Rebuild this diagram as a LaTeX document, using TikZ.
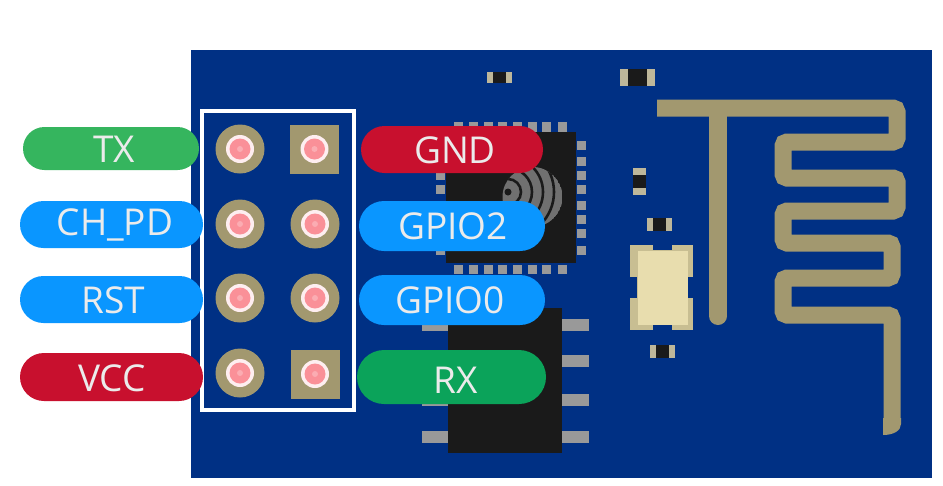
\documentclass[tikz,border=0pt]{standalone}
\usepackage{fontspec}
\usetikzlibrary{shapes.misc}
\setmainfont{Open Sans}
\definecolor{board}{HTML}{003084}
\definecolor{gold}{HTML}{A2986F}
\definecolor{chipk}{HTML}{1A1A1A}
\definecolor{pinGray}{HTML}{999999}
\definecolor{cream}{HTML}{E8DDAE}
\definecolor{pillblue}{HTML}{0A96FF}
\definecolor{pillred}{HTML}{C8102E}
\definecolor{pillgreen}{HTML}{35B55E}
\definecolor{pillgreenb}{HTML}{0BA35A}
\definecolor{pinkc}{HTML}{FA9098}
\definecolor{logoGray}{HTML}{707070}
\tikzset{
  pill/.style={draw=none,rounded rectangle,rounded rectangle arc length=180,inner sep=0pt},
  pilltext/.style={text=white!92!black,inner sep=0pt,font=\fontsize{37}{37}\selectfont},
  antenna/.style={draw=gold,line width=17pt,rounded corners=4pt},
  hole/.style={circle,fill=white!85!pinkc,draw=none,minimum size=28pt,inner sep=0pt},
  holein/.style={circle,fill=pinkc,draw=none,minimum size=21pt,inner sep=0pt},
  padround/.style={circle,fill=gold,draw=none,minimum size=49pt,inner sep=0pt},
  padsquare/.style={rectangle,fill=gold,draw=none,minimum size=49pt,inner sep=0pt},
}
\newcommand{\smdh}[5]{%
  \fill[gold!70!white] (#1,#3) rectangle (#2,#4);
  \fill[chipk] ({#1+#5},#3) rectangle ({#2-#5},#4);}
\newcommand{\smdv}[5]{%
  \fill[gold!70!white] (#1,#3) rectangle (#2,#4);
  \fill[chipk] (#1,{#3+#5}) rectangle (#2,{#4-#5});}
% name, cx, cy, w, h, colour, text x, text y, text
\newcommand{\pinlabel}[9]{%
  \node[pill,fill=#6,minimum width=#4pt,minimum height=#5pt] (#1) at (#2,#3) {};
  \node[pilltext] (#1t) at (#7,#8) {#9};}
\begin{document}
\begin{tikzpicture}[x=1pt,y=-1pt]
\useasboundingbox (0,0) rectangle (943,485);
\fill[white] (0,0) rectangle (943,485);
\fill[board] (191,50) rectangle (932,478);
% antenna
\draw[antenna] (657,108) -- (897,108) -- (897,142) -- (783,142) -- (783,178) -- (897,178) -- (897,211) -- (783,211) -- (783,243) -- (892,243) -- (892,278) -- (783,278) -- (783,315) -- (892,315) -- (892,420);
\fill[gold] (883,418) -- (901,418) -- (901,424) .. controls (901,431) and (893,435) .. (883,435) -- cycle;
\fill[gold] (709,108) rectangle (727,316);
\fill[gold] (718,316) circle (9);
% ESP chip
\fill[chipk] (446,132) rectangle (576,263);
\foreach \x in {458,473,488,502,517,532,546,562}{
  \fill[pinGray] (\x-4.5,122) rectangle (\x+4.5,132);
  \fill[pinGray] (\x-4.5,265) rectangle (\x+4.5,274);}
\foreach \y in {145,161,175,189,205,219,233,250}{
  \fill[pinGray] (577,\y-4.5) rectangle (586,\y+4.5);
  \fill[pinGray] (436,\y-4.5) rectangle (445,\y+4.5);}
% logo
\begin{scope}
\clip (532.5,197) circle (30);
\fill[logoGray] (532.5,197) circle (30);
\foreach \r in {13,24,35,46}
  \draw[chipk,line width=2.6pt] (508,192) circle (\r);
\fill[chipk] (508,192) circle (3.5);
\end{scope}
% SOP chip
\fill[chipk] (448,308) rectangle (562,453);
\foreach \y in {325,361,400,437}{
  \fill[pinGray] (562,\y-6) rectangle (589,\y+6);
  \fill[pinGray] (422,\y-6) rectangle (448,\y+6);}
% small parts
\smdh{487}{512}{72}{83}{6}
\smdh{620}{655}{69}{86}{8}
\smdv{633}{646}{168}{195}{7}
\smdh{647}{672}{218}{231}{6}
\smdh{650}{675}{345}{358}{6}
% crystal
\fill[gold!45!cream] (630,245) rectangle (693,330);
\fill[board] (653,243) rectangle (672,250);
\fill[board] (653,325) rectangle (672,332);
\fill[board] (688,277) rectangle (695,298);
\fill[board] (628,277) rectangle (637,298);
\fill[cream] (638,251) rectangle (688,325);
% pads
\foreach \n/\x/\y/\s in {a/240/149/padround,b/314.5/149/padsquare,c/240/224/padround,d/315/224/padround,e/240/298/padround,f/315/298/padround,g/240/373/padround,h/315/374/padsquare}{
  \node[\s] (p\n) at (\x,\y) {};
  \node[hole] at (p\n) {};
  \node[holein] at (p\n) {};
  \fill[pinkc!75!white] (p\n) circle (3);
}
\draw[white,line width=4pt] (202,111) rectangle (354,410);
% pills
\pinlabel{tx}{111}{148.5}{176}{43}{pillgreen}{114}{149}{TX}
\pinlabel{ch}{111.5}{224.5}{183}{47}{pillblue}{115}{225}{CH\_PD}
\pinlabel{rst}{111.5}{299.5}{183}{47}{pillblue}{113}{300}{RST}
\pinlabel{vcc}{111.5}{377}{183}{48}{pillred}{112}{378}{VCC}
\pinlabel{gnd}{452}{149.5}{182}{47}{pillred}{455}{150}{GND}
\pinlabel{g2}{452}{226}{186}{50}{pillblue}{453}{226}{GPIO2}
\pinlabel{g0}{452}{300}{186}{50}{pillblue}{450}{300}{GPIO0}
\pinlabel{rx}{451.5}{377}{189}{54}{pillgreenb}{456}{380}{RX}
\end{tikzpicture}
\end{document}
